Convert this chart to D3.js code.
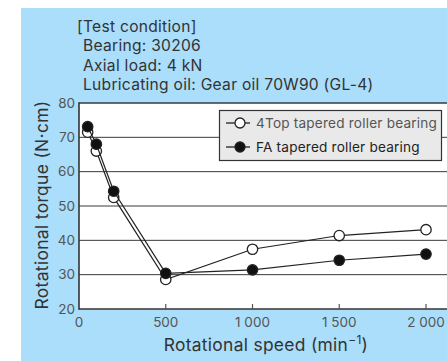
<!DOCTYPE html>
<html><head><meta charset="utf-8">
<script src="https://cdn.jsdelivr.net/npm/d3@7/dist/d3.min.js"></script>
<style>body{margin:0;background:#fff}svg{display:block}text{font-family:Inter,"Noto Sans",sans-serif}</style>
</head><body>
<script>
const speeds = [50, 100, 200, 500, 1000, 1500, 2000];
const fourTop = [71.5, 66, 52.5, 28.6, 37.4, 41.4, 43.1];
const faBearing = [73.1, 68, 54.3, 30.4, 31.4, 34.2, 36.0];
const seriesNames = ["4Top tapered roller bearing", "FA tapered roller bearing"];
const xTicks = [0, 500, 1000, 1500, 2000];
const xTickLabels = ["0", "500", "1 000", "1 500", "2 000"];
const yTicks = [20, 30, 40, 50, 60, 70, 80];
const conditionLines = ["[Test condition]", " Bearing: 30206", " Axial load: 4 kN", " Lubricating oil: Gear oil 70W90 (GL-4)"];

const W = 447, H = 361;
const svg = d3.select("body").append("svg").attr("width", W).attr("height", H);
svg.append("rect").attr("x", 21).attr("y", 8).attr("width", W - 21).attr("height", H - 8).attr("fill", "#aadefa");

const L = 79, R = 447, T = 103, B = 309;
const x = d3.scaleLinear().domain([0, 2000]).range([L, 426]);
const y = d3.scaleLinear().domain([20, 80]).range([B, T]);

// condition text
svg.append("g").selectAll("text").data(conditionLines).join("text")
  .attr("x", (d, i) => i === 0 ? 77 : 83)
  .attr("y", (d, i) => 32.3 + i * 19.1)
  .attr("font-size", 15.6).attr("letter-spacing", 0.27).attr("fill", "#333")
  .text(d => d.trim());

// plot area
svg.append("rect").attr("x", L).attr("y", T).attr("width", R - L).attr("height", B - T).attr("fill", "#fff");

// gridlines
svg.append("g").selectAll("line").data(yTicks.filter(v => v > 20)).join("line")
  .attr("x1", L).attr("x2", R).attr("y1", d => y(d)).attr("y2", d => y(d))
  .attr("stroke", "#3a3a3a").attr("stroke-width", d => d === 80 ? 1.6 : 1);

// axes lines
svg.append("line").attr("x1", L).attr("x2", L).attr("y1", T - 0.8).attr("y2", B + 0.8).attr("stroke", "#333").attr("stroke-width", 1.6);
svg.append("line").attr("x1", L).attr("x2", R).attr("y1", B).attr("y2", B).attr("stroke", "#333").attr("stroke-width", 1.6);

// x ticks inside
svg.append("g").selectAll("line").data(xTicks.filter(v => v > 0)).join("line")
  .attr("x1", d => x(d)).attr("x2", d => x(d)).attr("y1", B).attr("y2", B - 5)
  .attr("stroke", "#555").attr("stroke-width", 1.2);

// tick labels
svg.append("g").selectAll("text").data(yTicks).join("text")
  .attr("x", 75).attr("y", d => y(d)).attr("dy", "0.35em").attr("text-anchor", "end")
  .attr("font-size", 13.5).attr("fill", "#555").text(d => d);
svg.append("g").selectAll("text").data(xTicks).join("text")
  .attr("x", d => x(d)).attr("y", 327).attr("text-anchor", "middle")
  .attr("font-size", 13.5).attr("fill", "#555").text((d, i) => xTickLabels[i]);

// axis titles
const xt = svg.append("text").attr("x", 266).attr("y", 351).attr("text-anchor", "middle")
  .attr("font-size", 17.4).attr("letter-spacing", 0.3).attr("fill", "#333");
xt.append("tspan").text("Rotational speed (min");
xt.append("tspan").attr("font-size", 12).attr("dy", -7).text("−1");
xt.append("tspan").attr("dy", 7).text(")");
svg.append("text").attr("transform", "translate(48,205) rotate(-90)").attr("text-anchor", "middle")
  .attr("font-size", 17.4).attr("letter-spacing", 0.35).attr("fill", "#333").text("Rotational torque (N·cm)");

// series
const line = d3.line().x(d => x(d[0])).y(d => y(d[1]));
const sets = [
  {vals: fourTop, fill: "#fff"},
  {vals: faBearing, fill: "#111"}
];
sets.forEach(s => {
  const pts = speeds.map((v, i) => [v, s.vals[i]]);
  svg.append("path").attr("d", line(pts)).attr("fill", "none").attr("stroke", "#222").attr("stroke-width", 1.2);
  svg.append("g").selectAll("circle").data(pts).join("circle")
    .attr("cx", d => x(d[0])).attr("cy", d => y(d[1])).attr("r", 5.2)
    .attr("fill", s.fill).attr("stroke", "#222").attr("stroke-width", 1.3);
});

// legend
const lg = svg.append("g");
lg.append("rect").attr("x", 219.5).attr("y", 110.5).attr("width", 222).attr("height", 50)
  .attr("fill", "#e9e9e9").attr("stroke", "#333").attr("stroke-width", 1.2);
seriesNames.forEach((name, i) => {
  const yy = 123 + i * 24;
  lg.append("line").attr("x1", 226).attr("x2", 250).attr("y1", yy).attr("y2", yy).attr("stroke", "#222").attr("stroke-width", 1.3);
  lg.append("circle").attr("cx", 240).attr("cy", yy).attr("r", 5).attr("fill", sets[i].fill).attr("stroke", "#222").attr("stroke-width", 1.3);
  lg.append("text").attr("x", 256).attr("y", yy).attr("dy", "0.35em").attr("font-size", 13.6).attr("letter-spacing", 0.2)
    .attr("fill", i === 0 ? "#555" : "#222").text(name);
});
</script>
</body></html>
